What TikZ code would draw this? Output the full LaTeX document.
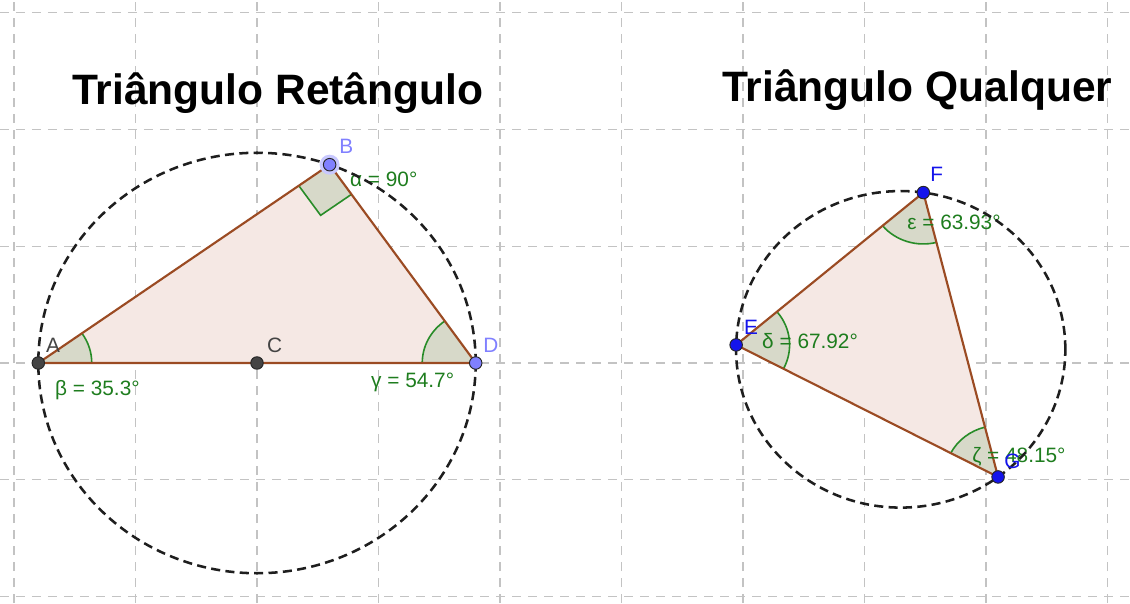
\documentclass[tikz,border=0pt]{standalone}
\usepackage{fontspec}
\setmainfont{Liberation Sans}
\usetikzlibrary{calc}
\definecolor{gridc}{RGB}{195,195,195}
\definecolor{triedgec}{RGB}{155,75,35}
\definecolor{trifillc}{RGB}{245,232,228}
\definecolor{angfillc}{RGB}{215,217,201}
\definecolor{anglinec}{RGB}{40,140,40}
\definecolor{angtextc}{RGB}{30,125,30}
\definecolor{darkpt}{RGB}{68,68,68}
\definecolor{lightpt}{RGB}{128,128,255}
\definecolor{bluept}{RGB}{20,20,235}
\definecolor{haloc}{RGB}{200,200,255}
\definecolor{circc}{RGB}{30,30,30}
\tikzset{
  gridline/.style={draw=gridc, line width=0.9pt, dash pattern=on 6.75pt off 5.25pt},
  circline/.style={draw=circc, line width=1.9pt, dash pattern=on 6.8pt off 4pt},
  triedge/.style={draw=triedgec, line width=1.6pt, line join=round},
  trifill/.style={fill=trifillc},
  angfill/.style={fill=angfillc},
  angline/.style={draw=anglinec, line width=1.2pt},
  angtext/.style={anchor=base west, inner sep=0pt, text=angtextc, font=\fontsize{15.6}{18}\selectfont},
  ptlab/.style={anchor=base west, inner sep=0pt, font=\fontsize{15.6}{18}\selectfont},
  ptdot/.style={circle, inner sep=0pt, minimum size=9.4pt, draw=black!85, line width=0.7pt},
  titletext/.style={anchor=base west, inner sep=0pt, font=\fontsize{31.9}{38}\selectfont\bfseries}
}
\begin{document}
\begin{tikzpicture}[x=91.125pt,y=87.6pt]
\useasboundingbox (-2.1152,-2.0548) rectangle (7.1852,3.1079);
\fill[white] (-2.1152,-2.0548) rectangle (7.1852,3.1079);
% grid
\foreach \i in {-2,...,7} \draw[gridline] (\i,-2.0548) -- (\i,3.1079);
\foreach \j in {-2,...,3} \draw[gridline] (-2.1152,\j) -- (7.1852,\j);

% titles
\node[titletext] (t1) at (-1.523,2.209) {Triângulo Retângulo};
\node[titletext] (t2) at (3.827,2.235) {Triângulo Qualquer};

% left geometry
\coordinate (C) at (0,0);
\coordinate (A) at (-1.8,0);
\coordinate (D) at (1.8,0);
\coordinate (B) at (70.6:1.8);
% right geometry
\coordinate (O2) at (5.298,0.117);
\coordinate (E) at ($(O2)+(178.4:1.355)$);
\coordinate (F) at ($(O2)+(82.1:1.355)$);
\coordinate (G) at ($(O2)+(-53.74:1.355)$);

% triangle fills
\fill[trifill] (A) -- (B) -- (D) -- cycle;
\fill[trifill] (E) -- (F) -- (G) -- cycle;

% angle wedges, left
\fill[angfill] (A) -- ($(A)+(0:0.44)$) arc[start angle=0,end angle=35.3,radius=0.44] -- cycle;
\draw[angline] ($(A)+(0:0.44)$) arc[start angle=0,end angle=35.3,radius=0.44];
\fill[angfill] (D) -- ($(D)+(125.3:0.44)$) arc[start angle=125.3,end angle=180,radius=0.44] -- cycle;
\draw[angline] ($(D)+(125.3:0.44)$) arc[start angle=125.3,end angle=180,radius=0.44];
\coordinate (B1) at ($(B)+(215.3:0.311)$);
\coordinate (B2) at ($(B)+(305.3:0.311)$);
\coordinate (B3) at ($(B1)+(305.3:0.311)$);
\fill[angfill] (B) -- (B1) -- (B3) -- (B2) -- cycle;
\draw[angline] (B1) -- (B3) -- (B2);

% angle wedges, right
\fill[angfill] (E) -- ($(E)+(-27.67:0.44)$) arc[start angle=-27.67,end angle=40.25,radius=0.44] -- cycle;
\draw[angline] ($(E)+(-27.67:0.44)$) arc[start angle=-27.67,end angle=40.25,radius=0.44];
\fill[angfill] (F) -- ($(F)+(220.25:0.44)$) arc[start angle=220.25,end angle=284.18,radius=0.44] -- cycle;
\draw[angline] ($(F)+(220.25:0.44)$) arc[start angle=220.25,end angle=284.18,radius=0.44];
\fill[angfill] (G) -- ($(G)+(104.18:0.44)$) arc[start angle=104.18,end angle=152.33,radius=0.44] -- cycle;
\draw[angline] ($(G)+(104.18:0.44)$) arc[start angle=104.18,end angle=152.33,radius=0.44];

% triangle edges
\draw[triedge] (A) -- (B) -- (D) -- cycle;
\draw[triedge] (E) -- (F) -- (G) -- cycle;

% angle labels
\node[angtext] (la) at (0.765,1.509) {α = 90°};
\node[angtext] (lb) at (-1.663,-0.274) {β = 35.3°};
\node[angtext] (lg) at (0.938,-0.214) {γ = 54.7°};
\node[angtext] (ld) at (4.156,0.126) {δ = 67.92°};
\node[angtext] (le) at (5.350,1.139) {ε = 63.93°};
\node[angtext] (lz) at (5.885,-0.856) {ζ = 48.15°};

% circumcircles
\draw[circline] (C) circle[radius=1.8];
\draw[circline] (O2) circle[radius=1.355];

% points
\fill[haloc] (B) circle[radius=7.5pt];
\node[ptdot, fill=darkpt] (pA) at (A) {};
\node[ptdot, fill=darkpt] (pC) at (C) {};
\node[ptdot, fill=lightpt] (pB) at (B) {};
\node[ptdot, fill=lightpt] (pD) at (D) {};
\node[ptdot, fill=bluept] (pE) at (E) {};
\node[ptdot, fill=bluept] (pF) at (F) {};
\node[ptdot, fill=bluept] (pG) at (G) {};

% point labels
\node[ptlab, text=darkpt] (nA) at (-1.737,0.094) {A};
\node[ptlab, text=darkpt] (nC) at (0.082,0.086) {C};
\node[ptlab, text=lightpt] (nB) at (0.675,1.795) {B};
\node[ptlab, text=lightpt] (nD) at (1.860,0.086) {D};
\node[ptlab, text=bluept] (nE) at (4.008,0.248) {E};
\node[ptlab, text=bluept] (nF) at (5.539,1.558) {F};
\node[ptlab, text=bluept] (nG) at (6.148,-0.899) {G};
\end{tikzpicture}
\end{document}
